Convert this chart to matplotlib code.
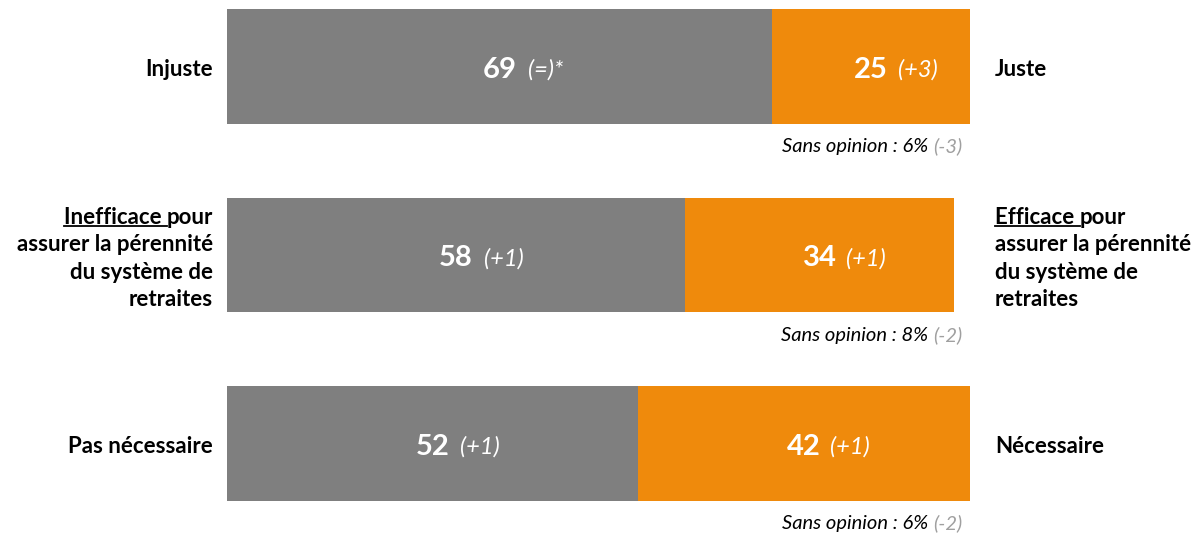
import matplotlib
matplotlib.use("Agg")
import matplotlib.pyplot as plt
from matplotlib.lines import Line2D

plt.rcParams['font.family'] = ['Lato', 'DejaVu Sans']

# data
neg_labels = ["Injuste", "Inefficace pour\nassurer la pérennité\ndu système de\nretraites", "Pas nécessaire"]
pos_labels = ["Juste", "Efficace pour\nassurer la pérennité\ndu système de\nretraites", "Nécessaire"]
underlined = [None, ("Inefficace ", "Efficace "), None]
neg_values = [69, 58, 52]
pos_values = [25, 34, 42]
neg_delta = ["(=)*", "(+1)", "(+1)"]
pos_delta = ["(+3)", "(+1)", "(+1)"]
no_opinion = [6, 8, 6]
no_opinion_delta = ["(-3)", "(-2)", "(-2)"]

GRAY = "#7F7F7F"
ORANGE = "#EF8A0C"
LBL_FS = 16

fig = plt.figure(figsize=(11.96, 5.34), dpi=100)
ax = fig.add_axes([0, 0, 1, 1])
ppu = 7.9  # pixels per unit on x
ax.set_xlim(-227 / ppu, (1196 - 227) / ppu)
ax.set_ylim((534 - 66.5) / 188.5, -66.5 / 188.5)
ax.axis('off')

ypos = list(range(len(neg_values)))
ax.barh(ypos, neg_values, height=0.61, color=GRAY)
ax.barh(ypos, pos_values, left=neg_values, height=0.61, color=ORANGE)

line_h = 27.5  # px between label lines
shift = -2.5   # pt, small downward nudge of text


def draw_label(x, y, text, ha, ul):
    lines = text.split("\n")
    n = len(lines)
    for i, ln in enumerate(lines):
        off = ((n - 1) / 2 - i) * line_h * 72 / 100 + shift
        if i == 0 and ul is not None:
            rest = ln[len(ul):]
            if ha == 'right':
                t2 = ax.annotate(rest, (x, y), xytext=(0, off), textcoords='offset points',
                                 ha='right', va='center', fontsize=LBL_FS, fontweight='bold')
                t1 = ax.annotate(ul, (0, 0.5), xycoords=t2, ha='right', va='center',
                                 fontsize=LBL_FS, fontweight='bold')
            else:
                t1 = ax.annotate(ul, (x, y), xytext=(0, off), textcoords='offset points',
                                 ha='left', va='center', fontsize=LBL_FS, fontweight='bold')
                ax.annotate(rest, (1, 0.5), xycoords=t1, ha='left', va='center',
                            fontsize=LBL_FS, fontweight='bold')
            ul_texts.append(t1)
        else:
            ax.annotate(ln, (x, y), xytext=(0, off), textcoords='offset points',
                        ha=ha, va='center', fontsize=LBL_FS, fontweight='bold')


ul_texts = []
for i in ypos:
    # values inside bars
    t = ax.annotate(str(neg_values[i]), (neg_values[i] / 2, i), xytext=(0, shift),
                    textcoords='offset points', ha='center', va='center',
                    color='white', fontsize=21, fontweight='bold')
    ax.annotate(neg_delta[i], (1, 0.5), xycoords=t, xytext=(8, 0), textcoords='offset points',
                ha='left', va='center', color='white', fontsize=17, style='italic')
    t = ax.annotate(str(pos_values[i]), (neg_values[i] + pos_values[i] / 2, i), xytext=(0, shift),
                    textcoords='offset points', ha='center', va='center',
                    color='white', fontsize=21, fontweight='bold')
    ax.annotate(pos_delta[i], (1, 0.5), xycoords=t, xytext=(7, 0), textcoords='offset points',
                ha='left', va='center', color='white', fontsize=17, style='italic')

    # side labels
    ul = underlined[i]
    draw_label(-14 / ppu, i, neg_labels[i], 'right', ul[0] if ul else None)
    draw_label((995 - 227) / ppu, i, pos_labels[i], 'left', ul[1] if ul else None)

    # no opinion
    td = ax.text((962 - 227) / ppu, i + 0.425, no_opinion_delta[i], ha='right', va='center',
                 color='#A0A0A0', fontsize=14.5, style='italic')
    ax.annotate("Sans opinion : %d%%" % no_opinion[i], (0, 0.5), xycoords=td,
                xytext=(-3, 0), textcoords='offset points', ha='right', va='center',
                color='black', fontsize=14.5, style='italic')

fig.canvas.draw()
for t in ul_texts:
    bb = t.get_window_extent()
    yb = (bb.y0 + 2) / fig.bbox.height
    fig.add_artist(Line2D([bb.x0 / fig.bbox.width, bb.x1 / fig.bbox.width], [yb, yb],
                          color='black', lw=1.3))

fig.savefig("out.png", dpi=100)
